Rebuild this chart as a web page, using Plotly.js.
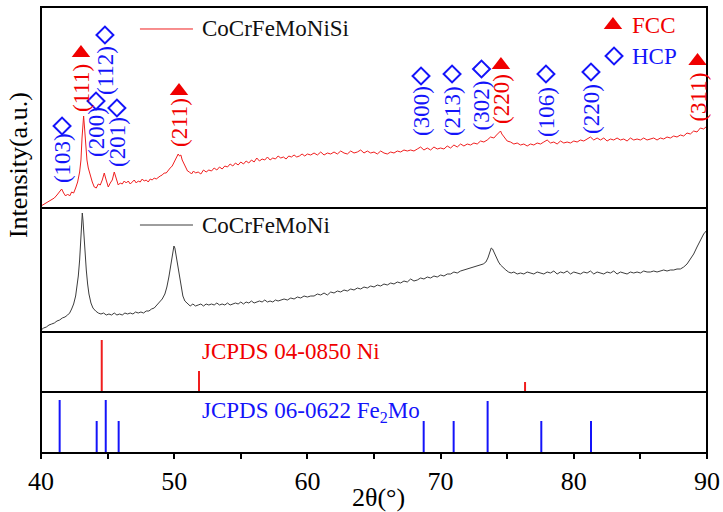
<!DOCTYPE html>
<html>
<head>
<meta charset="utf-8">
<script src="https://cdn.plot.ly/plotly-3.0.1.min.js"></script>
<style>html,body{margin:0;padding:0;background:#fff;}#chart{width:723px;height:512px;}</style>
</head>
<body>
<div id="chart"></div>
<script>
// ---- CoCrFeMoNiSi pattern (2θ, intensity a.u.) ----
const siX = [40.0,40.25,40.5,40.75,41.0,41.2,41.4,41.55,41.7,41.85,42.0,42.15,42.3,42.45,42.6,42.75,42.9,43.0,43.08,43.15,43.2,43.27,43.35,43.45,43.55,43.7,43.85,44.0,44.15,44.3,44.45,44.6,44.75,44.85,44.95,45.05,45.2,45.35,45.5,45.6,45.7,45.8,45.95,46.1,46.25,46.4,46.55,46.7,46.85,47.0,47.15,47.3,47.45,47.6,47.75,47.9,48.05,48.2,48.35,48.5,48.65,48.8,48.95,49.1,49.25,49.4,49.55,49.7,49.85,50.0,50.15,50.3,50.4,50.5,50.6,50.7,50.85,51.0,51.15,51.3,51.45,51.6,51.8,52.0,52.2,52.4,52.6,52.8,53.0,53.2,53.4,53.6,53.8,54.0,54.2,54.4,54.6,54.8,55.0,55.2,55.4,55.6,55.8,56.0,56.2,56.4,56.6,56.8,57.0,57.2,57.4,57.6,57.8,58.0,58.2,58.4,58.6,58.8,59.0,59.2,59.4,59.6,59.8,60.0,60.25,60.5,60.75,61.0,61.25,61.5,61.75,62.0,62.25,62.5,62.75,63.0,63.25,63.5,63.75,64.0,64.25,64.5,64.75,65.0,65.25,65.5,65.75,66.0,66.25,66.5,66.75,67.0,67.25,67.5,67.75,68.0,68.25,68.5,68.75,69.0,69.25,69.5,69.75,70.0,70.25,70.5,70.75,71.0,71.25,71.5,71.75,72.0,72.25,72.5,72.75,73.0,73.25,73.5,73.75,74.0,74.2,74.4,74.5,74.6,74.8,75.0,75.25,75.5,75.75,76.0,76.25,76.5,76.75,77.0,77.25,77.5,77.75,78.0,78.25,78.5,78.75,79.0,79.25,79.5,79.75,80.0,80.25,80.5,80.75,81.0,81.25,81.5,81.75,82.0,82.25,82.5,82.75,83.0,83.25,83.5,83.75,84.0,84.25,84.5,84.75,85.0,85.25,85.5,85.75,86.0,86.25,86.5,86.75,87.0,87.25,87.5,87.75,88.0,88.25,88.5,88.75,89.0,89.25,89.5,89.75,90.0];
const siY = [2,4,6,8,10,13,17,19,15,12,14,12,16,15,20,26,36,48,70,88,92,80,62,48,40,32,26,21,20,24,23,28,35,30,24,21,25,28,36,32,27,23,25,24,27,25,27,24,26,28,25,27,26,29,27,28,26,29,28,30,29,31,32,33,35,35,38,40,42,46,49,54,52,53,48,45,40,37,36,34,37,35,36,34,38,36,38,37,40,38,41,39,42,41,44,42,45,43,46,44,47,45,48,46,50,47,49,48,51,48,50,49,52,50,51,49,52,51,53,51,52,54,52,54,53,55,53,56,53,55,54,56,54,57,55,54,57,55,56,58,55,57,55,56,54,57,55,54,56,55,57,56,58,57,58,57,59,61,58,60,58,61,59,60,59,62,60,63,61,64,62,64,63,65,64,67,66,68,71,70,73,76,77,74,70,67,66,64,65,63,64,62,64,63,65,64,66,68,65,66,64,67,65,66,65,67,66,68,67,69,71,68,70,68,70,67,69,68,70,68,69,67,70,68,69,68,70,68,69,70,68,70,69,71,70,72,71,73,72,75,74,77,76,80,79,82];

// ---- CoCrFeMoNi pattern ----
const niX = [40.0,40.2,40.4,40.6,40.8,41.0,41.2,41.4,41.6,41.8,42.0,42.15,42.3,42.45,42.6,42.7,42.8,42.9,43.0,43.05,43.1,43.15,43.22,43.3,43.4,43.5,43.6,43.75,43.9,44.1,44.3,44.5,44.7,44.9,45.1,45.3,45.5,45.7,45.9,46.1,46.3,46.5,46.7,46.9,47.1,47.3,47.5,47.7,47.9,48.1,48.3,48.5,48.7,48.9,49.1,49.3,49.45,49.6,49.7,49.8,49.9,49.98,50.05,50.15,50.25,50.35,50.45,50.55,50.65,50.8,51.0,51.2,51.4,51.6,51.8,52.0,52.2,52.4,52.6,52.8,53.0,53.2,53.4,53.6,53.8,54.0,54.2,54.4,54.6,54.8,55.0,55.2,55.4,55.6,55.8,56.0,56.2,56.4,56.6,56.8,57.0,57.2,57.4,57.6,57.8,58.0,58.25,58.5,58.75,59.0,59.25,59.5,59.75,60.0,60.25,60.5,60.75,61.0,61.25,61.5,61.75,62.0,62.25,62.5,62.75,63.0,63.25,63.5,63.75,64.0,64.25,64.5,64.75,65.0,65.25,65.5,65.75,66.0,66.25,66.5,66.75,67.0,67.25,67.5,67.75,68.0,68.25,68.5,68.75,69.0,69.25,69.5,69.75,70.0,70.25,70.5,70.75,71.0,71.25,71.5,71.75,72.0,72.25,72.5,72.75,73.0,73.2,73.4,73.55,73.7,73.8,73.9,74.0,74.1,74.2,74.35,74.5,74.7,74.9,75.1,75.3,75.5,75.75,76.0,76.25,76.5,76.75,77.0,77.25,77.5,77.75,78.0,78.25,78.5,78.75,79.0,79.25,79.5,79.75,80.0,80.25,80.5,80.75,81.0,81.25,81.5,81.75,82.0,82.25,82.5,82.75,83.0,83.25,83.5,83.75,84.0,84.25,84.5,84.75,85.0,85.25,85.5,85.75,86.0,86.25,86.5,86.75,87.0,87.25,87.5,87.75,88.0,88.25,88.5,88.75,89.0,89.25,89.5,89.75,90.0];
const niY = [2,4,5,7,8,9,11,12,14,15,17,19,23,28,36,45,56,72,96,110,119,112,96,80,62,48,38,29,24,21,19,18,19,17,18,17,19,17,18,17,19,18,19,18,20,19,20,19,21,21,23,24,27,29,33,38,45,55,64,74,82,86,84,76,68,57,48,41,36,31,28,26,28,26,27,28,26,28,27,28,27,29,27,28,27,29,27,28,29,28,30,28,30,29,31,29,30,31,30,32,30,31,30,32,31,32,33,32,34,33,35,34,36,35,36,36,38,37,39,37,40,39,41,40,42,41,43,42,44,43,45,44,46,45,47,46,48,47,49,48,50,49,51,50,53,51,52,54,53,55,54,56,55,57,56,58,58,60,59,61,62,63,64,65,66,67,68,70,74,80,84,83,80,76,73,70,67,64,62,60,59,60,58,59,58,60,59,58,60,59,58,60,59,61,58,60,59,61,58,60,59,58,60,59,61,58,60,59,58,60,59,61,58,60,59,58,60,59,60,59,61,60,60,61,60,61,62,61,62,62,63,63,65,68,73,78,85,92,98,102];

// ---- Reference sticks ----
const niRef2Theta = [44.56, 51.86, 76.34];
const niRefInt = [52, 21, 10];
const fe2moRef2Theta = [41.4, 44.18, 44.86, 45.83, 68.73, 70.98, 73.53, 77.56, 81.29, 90.0];
const fe2moRefInt = [53, 32, 53, 32, 32, 32, 52, 32, 32, 32];

// ---- Peak indexing (CoCrFeMoNiSi panel) ----
const peakLabel = ['(103)','(111)','(200)','(112)','(201)','(211)','(300)','(213)','(302)','(220)','(106)','(220)','(311)'];
const peakPhase = ['HCP','FCC','HCP','HCP','HCP','FCC','HCP','HCP','HCP','FCC','HCP','HCP','FCC'];
const peak2Theta = [41.58, 43.0, 44.13, 44.8, 45.7, 50.36, 68.53, 70.86, 73.07, 74.53, 77.91, 81.29, 89.29];
const peakLabelY = [50, 120, 76, 138, 66, 85, 97, 97, 103, 109, 96, 99, 111];
const peakMarkY = [82, 155, 107, 173, 100, 117, 132, 134, 139, 143, 134, 136, 147];

const xTicks = [40, 50, 60, 70, 80, 90];

const FONT = 'Liberation Serif, Times New Roman, serif';
const RED = 'rgb(240,30,30)';
const BLUE = 'rgb(20,20,250)';

function sticks(xs, hs) {
  const x = [], y = [];
  xs.forEach((v, i) => { x.push(v, v, null); y.push(0, hs[i], null); });
  return {x, y};
}
const niS = sticks(niRef2Theta, niRefInt);
const feS = sticks(fe2moRef2Theta, fe2moRefInt);

const fccIdx = peakPhase.map((p, i) => p === 'FCC' ? i : -1).filter(i => i >= 0);
const hcpIdx = peakPhase.map((p, i) => p === 'HCP' ? i : -1).filter(i => i >= 0);

const traces = [
  {x: siX, y: siY, xaxis: 'x', yaxis: 'y', mode: 'lines', line: {color: RED, width: 1}, showlegend: false, hoverinfo: 'skip'},
  {x: niX, y: niY, xaxis: 'x', yaxis: 'y2', mode: 'lines', line: {color: 'rgb(60,60,60)', width: 1}, showlegend: false, hoverinfo: 'skip'},
  {x: niS.x, y: niS.y, xaxis: 'x', yaxis: 'y3', mode: 'lines', line: {color: RED, width: 2}, showlegend: false, hoverinfo: 'skip'},
  {x: feS.x, y: feS.y, xaxis: 'x', yaxis: 'y4', mode: 'lines', line: {color: BLUE, width: 2}, showlegend: false, hoverinfo: 'skip'},
  {x: fccIdx.map(i => peak2Theta[i]), y: fccIdx.map(i => peakMarkY[i]), xaxis: 'x', yaxis: 'y', mode: 'markers',
   marker: {symbol: 'triangle-up', size: 16, color: 'rgb(240,0,0)'}, showlegend: false, cliponaxis: false},
  {x: hcpIdx.map(i => peak2Theta[i]), y: hcpIdx.map(i => peakMarkY[i]), xaxis: 'x', yaxis: 'y', mode: 'markers',
   marker: {symbol: 'diamond-open', size: 13, color: BLUE, line: {width: 2, color: BLUE}}, showlegend: false, cliponaxis: false},
  // phase key symbols
  {x: [82.94], y: [183], xaxis: 'x', yaxis: 'y', mode: 'markers', marker: {symbol: 'triangle-up', size: 16, color: 'rgb(240,0,0)'}, showlegend: false},
  {x: [83.02], y: [152], xaxis: 'x', yaxis: 'y', mode: 'markers', marker: {symbol: 'diamond-open', size: 13, color: BLUE, line: {width: 2, color: BLUE}}, showlegend: false}
];

const annotations = peakLabel.map((t, i) => ({
  text: t, x: peak2Theta[i], y: peakLabelY[i], xref: 'x', yref: 'y', textangle: -90,
  showarrow: false, xanchor: 'center', yanchor: 'middle',
  font: {family: FONT, size: 23, color: peakPhase[i] === 'FCC' ? 'rgb(240,0,0)' : BLUE}
}));

function pa(text, x, y, size, color, extra) {
  return Object.assign({text, x, y, xref: 'paper', yref: 'paper', showarrow: false,
    xanchor: 'left', yanchor: 'middle', font: {family: FONT, size, color}}, extra || {});
}
annotations.push(
  pa('CoCrFeMoNiSi', 0.2387, 0.9507, 23, '#111'),
  pa('CoCrFeMoNi', 0.2387, 0.5112, 23, '#111'),
  pa('FCC', 0.8844, 0.9596, 23, 'rgb(240,0,0)'),
  pa('HCP', 0.8844, 0.8901, 23, BLUE),
  pa('JCPDS 04-0850 Ni', 0.2387, 0.2265, 23, 'rgb(240,0,0)'),
  pa('JCPDS 06-0622 Fe<sub>2</sub>Mo', 0.2387, 0.0919, 23, BLUE),
  pa('Intensity(a.u.)', -0.0345, 0.6457, 26, '#000', {textangle: -90, xanchor: 'center'}),
  pa('2θ(°)', 0.5075, -0.0987, 26, '#000', {xanchor: 'center'})
);

const shapes = [];
['y', 'y2', 'y3', 'y4'].forEach(ax => shapes.push({type: 'rect', xref: 'x domain', yref: ax + ' domain',
  x0: 0, x1: 1, y0: 0, y1: 1, line: {color: '#000', width: 2}, layer: 'above'}));
shapes.push({type: 'line', xref: 'paper', yref: 'paper', x0: 0.1486, x1: 0.2282, y0: 0.9507, y1: 0.9507, line: {color: RED, width: 1}});
shapes.push({type: 'line', xref: 'paper', yref: 'paper', x0: 0.1486, x1: 0.2282, y0: 0.5112, y1: 0.5112, line: {color: 'rgb(60,60,60)', width: 1}});

const yCommon = {showticklabels: false, ticks: '', showgrid: false, zeroline: false, showline: false, fixedrange: true};
const layout = {
  width: 723, height: 512,
  margin: {l: 41, r: 16, t: 7, b: 59, pad: 0},
  paper_bgcolor: '#fff', plot_bgcolor: '#fff',
  font: {family: FONT, color: '#000'},
  xaxis: {range: [40, 90], anchor: 'y4', tickvals: xTicks, ticktext: xTicks.map(String), ticks: 'outside', ticklen: 5, tickwidth: 2,
    tickcolor: '#000', tickfont: {family: FONT, size: 26, color: '#000'}, showgrid: false, zeroline: false, showline: false,
    minor: {tickvals: [45, 55, 65, 75, 85], ticks: 'outside', ticklen: 5, tickwidth: 2, tickcolor: '#000'}},
  yaxis: Object.assign({domain: [0.5493, 1], range: [0, 201]}, yCommon),
  yaxis2: Object.assign({domain: [0.2713, 0.5493], range: [0, 124]}, yCommon),
  yaxis3: Object.assign({domain: [0.1368, 0.2713], range: [0, 60]}, yCommon),
  yaxis4: Object.assign({domain: [0, 0.1368], range: [0, 61]}, yCommon),
  annotations, shapes, showlegend: false
};

Plotly.newPlot('chart', traces, layout, {staticPlot: true, displayModeBar: false});
</script>
</body>
</html>
